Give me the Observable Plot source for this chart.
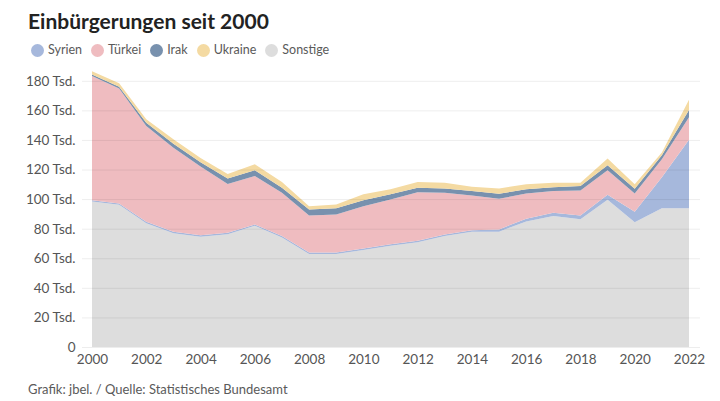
<!DOCTYPE html>
<html>
<head>
<meta charset="utf-8">
<script src="https://cdn.jsdelivr.net/npm/d3@7"></script>
<script src="https://cdn.jsdelivr.net/npm/@observablehq/plot@0.6"></script>
<style>
  html, body { margin: 0; padding: 0; background: #fff; }
  body { width: 720px; height: 401px; position: relative; overflow: hidden; font-family: Lato, "Open Sans", sans-serif; }
  #title { position: absolute; left: 28px; top: 8px; font-size: 21px; font-weight: 700; color: #222; line-height: 26px; }
  #legend { position: absolute; left: 31px; top: 41px; display: flex; gap: 9px; font-size: 12.5px; color: #5a5a5a; line-height: 18px; }
  #legend span.item { display: flex; align-items: center; gap: 4px; }
  #legend span.dot { width: 13px; height: 13px; border-radius: 50%; display: inline-block; }
  #chart { position: absolute; left: 0; top: 64px; }
  #caption { position: absolute; left: 28px; top: 381px; font-size: 13px; color: #5a5a5a; }
</style>
</head>
<body>
<div id="title">Einbürgerungen seit 2000</div>
<div id="legend"></div>
<div id="chart"></div>
<div id="caption">Grafik: jbel. / Quelle: Statistisches Bundesamt</div>
<script>
// values in thousands
const years    = [2000,2001,2002,2003,2004,2005,2006,2007,2008,2009,2010,2011,2012,2013,2014,2015,2016,2017,2018,2019,2020,2021,2022];
const sonstige = [98.3,96.1,83.7,76.9,74.6,76.2,81.9,74.0,62.9,62.9,65.6,68.5,70.8,75.1,78.0,78.0,84.8,88.6,86.4,99.5,84.4,93.8,93.8];
const syrien   = [1.0,1.0,1.0,1.0,1.0,1.0,1.0,1.0,1.0,1.0,1.0,1.0,1.0,1.0,1.0,1.5,2.0,2.2,2.5,3.4,7.0,21.0,46.3];
const tuerkei  = [83.9,77.7,64.7,56.8,46.4,33.0,32.7,29.3,25.0,25.7,28.6,30.3,32.9,28.2,23.5,20.7,17.0,14.6,17.0,16.6,12.4,12.2,15.2];
const irak     = [1.0,1.2,2.2,2.7,3.0,3.8,3.9,3.4,4.1,4.3,4.1,3.4,3.0,2.9,2.9,3.4,2.8,2.7,2.9,3.4,3.2,2.7,5.0];
const ukraine  = [2.2,2.4,2.4,3.0,2.8,3.0,4.1,3.8,2.2,2.5,3.9,3.4,3.8,3.9,3.0,3.6,3.4,3.0,2.3,4.5,3.0,1.8,6.8];

const groups = ["Syrien", "Türkei", "Irak", "Ukraine", "Sonstige"];
const colors = ["#a6b8dc", "#efbcc0", "#7891ae", "#f4daa2", "#dddddd"];
const stackOrder = ["Sonstige", "Syrien", "Türkei", "Irak", "Ukraine"];
const yTicks = [0,20,40,60,80,100,120,140,160,180];
const xTicks = [2000,2002,2004,2006,2008,2010,2012,2014,2016,2018,2020,2022];

const series = {Sonstige: sonstige, Syrien: syrien, "Türkei": tuerkei, Irak: irak, Ukraine: ukraine};
const data = [];
for (const g of stackOrder) {
  years.forEach((yr, i) => data.push({year: yr, land: g, value: series[g][i]}));
}

// legend
const legend = document.getElementById("legend");
groups.forEach((g, i) => {
  const item = document.createElement("span");
  item.className = "item";
  item.innerHTML = `<span class="dot" style="background:${colors[i]}"></span><span>${g}</span>`;
  legend.appendChild(item);
});

const plot = Plot.plot({
  width: 720,
  height: 308,
  marginLeft: 82,
  marginRight: 20,
  marginTop: 2,
  marginBottom: 25,
  style: {fontFamily: "Lato, 'Open Sans', sans-serif", fontSize: "13.5px", color: "#555", background: "transparent"},
  x: {domain: [2000, 2022], insetLeft: 10, insetRight: 11, ticks: xTicks, tickFormat: d => String(d), tickSize: 0, tickPadding: 7, label: null},
  y: {domain: [0, 190], ticks: yTicks, tickFormat: d => d === 0 ? "0" : `${d} Tsd.`, tickSize: 0, tickPadding: 7, label: null},
  color: {domain: groups, range: colors},
  marks: [
    Plot.areaY(data, {x: "year", y: "value", fill: "land", order: stackOrder}),
    Plot.gridY(yTicks, {stroke: "#000", strokeOpacity: 0.07}),
    Plot.axisX({ticks: xTicks, tickFormat: d => String(d), tickSize: 0, tickPadding: 7, label: null}),
    Plot.axisY({ticks: yTicks, tickFormat: d => d === 0 ? "0" : `${d} Tsd.`, tickSize: 0, tickPadding: 7, label: null})
  ]
});
document.getElementById("chart").appendChild(plot);
</script>
</body>
</html>
